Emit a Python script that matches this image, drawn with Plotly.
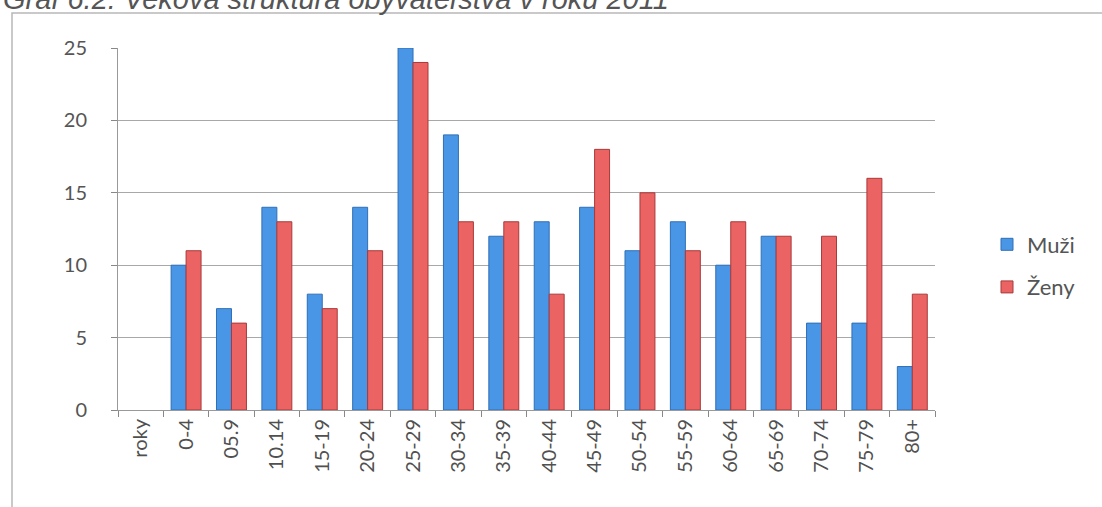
import plotly.graph_objects as go

categories = ["roky", "0-4", "05.9", "10.14", "15-19", "20-24", "25-29", "30-34", "35-39",
              "40-44", "45-49", "50-54", "55-59", "60-64", "65-69", "70-74", "75-79", "80+"]
muzi = [None, 10, 7, 14, 8, 14, 25, 19, 12, 13, 14, 11, 13, 10, 12, 6, 6, 3]
zeny = [None, 11, 6, 13, 7, 11, 24, 13, 13, 8, 18, 15, 11, 13, 12, 12, 16, 8]
title_text = "Graf 6.2: Veková štruktúra obyvateľstva v roku 2011"

L, R, T, B = 118, 167, 48, 97
W, H = 1102, 507
pw, ph = W - L - R, H - T - B

fig = go.Figure()
fig.add_trace(go.Bar(x=categories, y=muzi, name="Muži", legendgroup="m",
                     marker=dict(color="#4a96e6", line=dict(color="#2f6fb5", width=1))))
fig.add_trace(go.Bar(x=categories, y=zeny, name="Ženy", legendgroup="z",
                     marker=dict(color="#ec6363", line=dict(color="#a83a3a", width=1))))

fig.update_layout(
    width=W, height=H,
    margin=dict(l=L, r=R, t=T, b=B),
    paper_bgcolor="white", plot_bgcolor="white",
    barmode="group", bargap=0.34, bargroupgap=0.0,
    font=dict(family="Lato, Open Sans, sans-serif", color="#555555"),
    legend=dict(x=(987 - L) / pw, y=(410 - 266) / ph, xanchor="left", yanchor="middle",
                font=dict(size=22, color="#555555"), tracegroupgap=11,
                traceorder="grouped", itemwidth=30),
    showlegend=True,
)
fig.update_xaxes(type="category", tickson="boundaries", ticks="outside", ticklen=6,
                 tickcolor="#888888", tickangle=-90, tickfont=dict(size=20, color="#505050"),
                 showline=True, linecolor="#999999", linewidth=1, showgrid=False)
fig.update_yaxes(range=[0, 25], tickvals=[0, 5, 10, 15, 20, 25], ticks="outside", ticklen=6,
                 tickcolor="#888888", tickfont=dict(size=20, color="#555555"),
                 showline=True, linecolor="#999999", linewidth=1,
                 showgrid=True, gridcolor="#a8a8a8", gridwidth=1, zeroline=False,
                 ticklabelstandoff=20)

# outer chart border (cut by page edges)
fig.add_shape(type="rect", xref="paper", yref="paper",
              x0=-(L - 12) / pw, x1=1.3, y0=-0.6, y1=1 + (T - 13) / ph,
              line=dict(color="#b8b8b8", width=1.5), fillcolor="rgba(0,0,0,0)", layer="below")

fig.add_annotation(text=title_text, xref="paper", yref="paper", x=0, y=1,
                   xanchor="left", yanchor="middle", xshift=-L + 1, yshift=T + 1,
                   showarrow=False,
                   font=dict(family="Liberation Sans, Arial, sans-serif", size=29,
                             color="#555555", style="italic"))

fig.write_html("out.html", post_script="document.body.style.margin='0';",
               config={"displayModeBar": False})
